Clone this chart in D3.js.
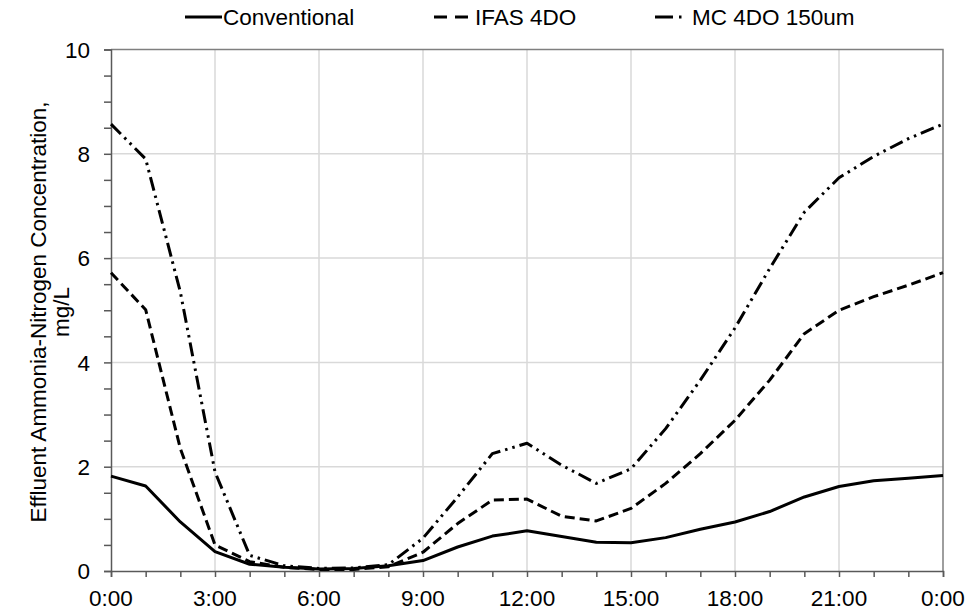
<!DOCTYPE html>
<html>
<head>
<meta charset="utf-8">
<script src="https://cdn.jsdelivr.net/npm/d3@7"></script>
<style>
  html, body { margin: 0; padding: 0; background: #fff; }
  svg { display: block; font-family: "Liberation Sans", Arial, sans-serif; }
</style>
</head>
<body>
<svg id="chart" width="965" height="612"></svg>
<script>
// Hour of day for each sample (0 = midnight, 24 = next midnight)
const hours = [0,1,2,3,4,5,6,7,8,9,10,11,12,13,14,15,16,17,18,19,20,21,22,23,24];

// Effluent NH3-N, mg/L
const conventional = [1.82,1.63,0.94,0.37,0.13,0.07,0.04,0.05,0.10,0.20,0.46,0.67,0.77,0.66,0.55,0.54,0.64,0.80,0.94,1.14,1.42,1.62,1.73,1.78,1.83];
const ifas4do      = [5.72,5.01,2.35,0.50,0.18,0.07,0.03,0.03,0.08,0.36,0.91,1.36,1.38,1.05,0.96,1.20,1.68,2.25,2.89,3.66,4.55,5.00,5.26,5.48,5.72];
const mc4do150     = [8.57,7.90,5.35,1.90,0.30,0.10,0.05,0.06,0.12,0.63,1.42,2.25,2.45,2.03,1.68,1.96,2.73,3.66,4.66,5.80,6.88,7.54,7.95,8.29,8.57];

const seriesNames = ["Conventional", "IFAS 4DO", "MC 4DO 150um"];
const xTickHours  = [0,3,6,9,12,15,18,21,24];
const xTickLabels = ["0:00","3:00","6:00","9:00","12:00","15:00","18:00","21:00","0:00"];
const yTicks      = [0,2,4,6,8,10];

const svg = d3.select("#chart");
const plotL = 111, plotR = 943, plotT = 49.5, plotB = 571;
const fontSize = 22.5;

const x = d3.scaleLinear().domain([0, 24]).range([plotL, plotR]);
const y = d3.scaleLinear().domain([0, 10]).range([plotB, plotT]);

// grid
const grid = svg.append("g").attr("stroke", "#d9d9d9").attr("stroke-width", 1.5);
grid.selectAll("line.v").data(xTickHours.slice(1, -1)).join("line").attr("class", "v")
  .attr("x1", d => x(d)).attr("x2", d => x(d)).attr("y1", plotT).attr("y2", plotB);
grid.selectAll("line.h").data(yTicks.slice(1, -1)).join("line").attr("class", "h")
  .attr("x1", plotL).attr("x2", plotR).attr("y1", d => y(d)).attr("y2", d => y(d));

// top and right frame
svg.append("path")
  .attr("d", `M${plotL},${y(10)}H${plotR}V${plotB}`)
  .attr("fill", "none").attr("stroke", "#7f7f7f").attr("stroke-width", 1.5);

// y axis with minor ticks every 0.5
const yAxis = svg.append("g").attr("transform", `translate(${plotL},0)`)
  .call(d3.axisLeft(y).tickValues(d3.range(0, 10.01, 0.5)).tickSize(7).tickFormat(""));
yAxis.selectAll("path, line").attr("stroke", "#595959").attr("stroke-width", 1.5);
svg.append("g").selectAll("text").data(yTicks).join("text")
  .attr("x", plotL - 21).attr("y", d => y(d)).attr("dy", "0.36em")
  .attr("text-anchor", "end").attr("font-size", fontSize).attr("fill", "#000")
  .text(d => d);

// x axis with hourly ticks
const xAxis = svg.append("g").attr("transform", `translate(0,${plotB})`)
  .call(d3.axisBottom(x).tickValues(hours).tickSize(6).tickFormat(""));
xAxis.selectAll("path, line").attr("stroke", "#595959").attr("stroke-width", 1.5);
svg.append("g").selectAll("text").data(xTickHours).join("text")
  .attr("x", d => x(d)).attr("y", plotB + 35)
  .attr("text-anchor", "middle").attr("font-size", fontSize).attr("fill", "#000")
  .text((d, i) => xTickLabels[i]);

// y title, two centred lines
const yTitle = svg.append("text")
  .attr("transform", `translate(46,312) rotate(-90)`)
  .attr("text-anchor", "middle").attr("font-size", fontSize).attr("fill", "#000");
yTitle.append("tspan").attr("x", 0).attr("dy", 0).text("Effluent Ammonia-Nitrogen Concentration,");
yTitle.append("tspan").attr("x", 0).attr("dy", 23).text("mg/L");

// series
const styles = [
  { values: conventional, dash: null,               width: 3 },
  { values: ifas4do,      dash: "10,5",             width: 3 },
  { values: mc4do150,     dash: "14,5,2.5,5,2.5,5", width: 3 }
];
const line = d3.line().x((d, i) => x(hours[i])).y(d => y(d));
svg.append("g").selectAll("path").data(styles).join("path")
  .attr("d", s => line(s.values))
  .attr("fill", "none").attr("stroke", "#000")
  .attr("stroke-width", s => s.width)
  .attr("stroke-dasharray", s => s.dash)
  .attr("stroke-linejoin", "round");

// legend: sample line, then label
const legendItems = [
  { x: 185, len: 37, dash: null,          textX: 223 },
  { x: 434, len: 34, dash: "13,8,13,20",  textX: 475 },
  { x: 655, len: 27, dash: "18,6,2.5,20", textX: 692 }
];
const legend = svg.append("g");
legendItems.forEach((it, i) => {
  legend.append("line")
    .attr("x1", it.x).attr("x2", it.x + it.len).attr("y1", 17).attr("y2", 17)
    .attr("stroke", "#000").attr("stroke-width", 3)
    .attr("stroke-dasharray", it.dash);
  legend.append("text").attr("x", it.textX).attr("y", 17).attr("dy", "0.36em")
    .attr("font-size", fontSize).attr("fill", "#000").text(seriesNames[i]);
});
</script>
</body>
</html>
